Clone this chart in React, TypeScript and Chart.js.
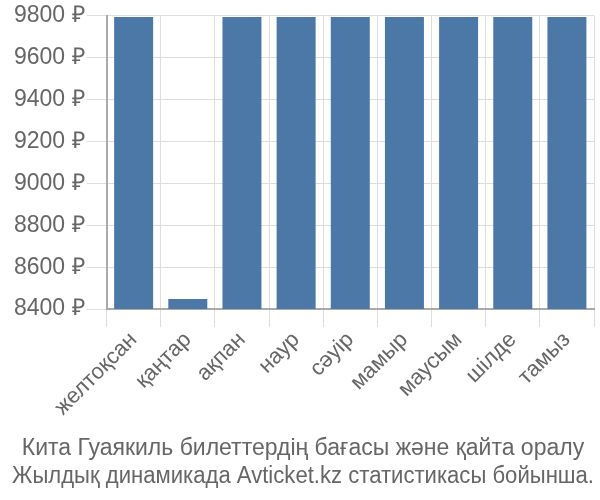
import React, { useEffect, useRef } from "react";
import { Chart, registerables } from "chart.js";

Chart.register(...registerables);

const categories = ["желтоқсан", "қаңтар", "ақпан", "наур", "сәуір", "мамыр", "маусым", "шілде", "тамыз"];
const prices = [9794, 8448, 9794, 9794, 9794, 9794, 9794, 9794, 9794];
const titleLines = [
  "Кита Гуаякиль билеттердің бағасы және қайта оралу",
  "Жылдық динамикада Avticket.kz статистикасы бойынша.",
];
const yMin = 8400;
const yMax = 9800;

export default function App() {
  const ref = useRef<HTMLCanvasElement>(null);
  useEffect(() => {
    document.body.style.margin = "0";
    const chart = new Chart(ref.current!, {
      type: "bar",
      data: {
        labels: categories,
        datasets: [
          {
            data: prices,
            backgroundColor: "#4c78a8",
            categoryPercentage: 0.72,
            barPercentage: 1,
          },
        ],
      },
      options: {
        animation: false,
        responsive: false,
        layout: { padding: { left: 12, right: 6, top: 2, bottom: 0 } },
        plugins: {
          legend: { display: false },
          tooltip: { enabled: false },
          title: {
            display: true,
            position: "bottom",
            text: titleLines,
            color: "#666",
            font: { family: "'Liberation Sans Narrow', 'Liberation Sans', Arial", size: 23, weight: "normal", lineHeight: 1.2 },
            padding: { top: 14, bottom: 10 },
          },
        },
        scales: {
          x: {
            grid: { color: "#ddd", tickLength: 18, offset: true },
            border: { color: "#aaa", width: 2 },
            ticks: {
              color: "#666",
              font: { family: "'Liberation Sans', Arial", size: 22 },
              maxRotation: 45,
              minRotation: 45,
              autoSkip: false,
              padding: 0,
            },
          },
          y: {
            min: yMin,
            max: yMax,
            grid: { color: "#ddd", tickLength: 20 },
            border: { color: "#aaa", width: 2 },
            ticks: {
              stepSize: 200,
              color: "#666",
              font: { family: "'Liberation Sans', Arial", size: 23 },
              callback: (v: any) => `${v} ₽`,
              padding: 2,
            },
          },
        },
      },
    });
    return () => chart.destroy();
  }, []);
  return <canvas ref={ref} width={600} height={500} />;
}
